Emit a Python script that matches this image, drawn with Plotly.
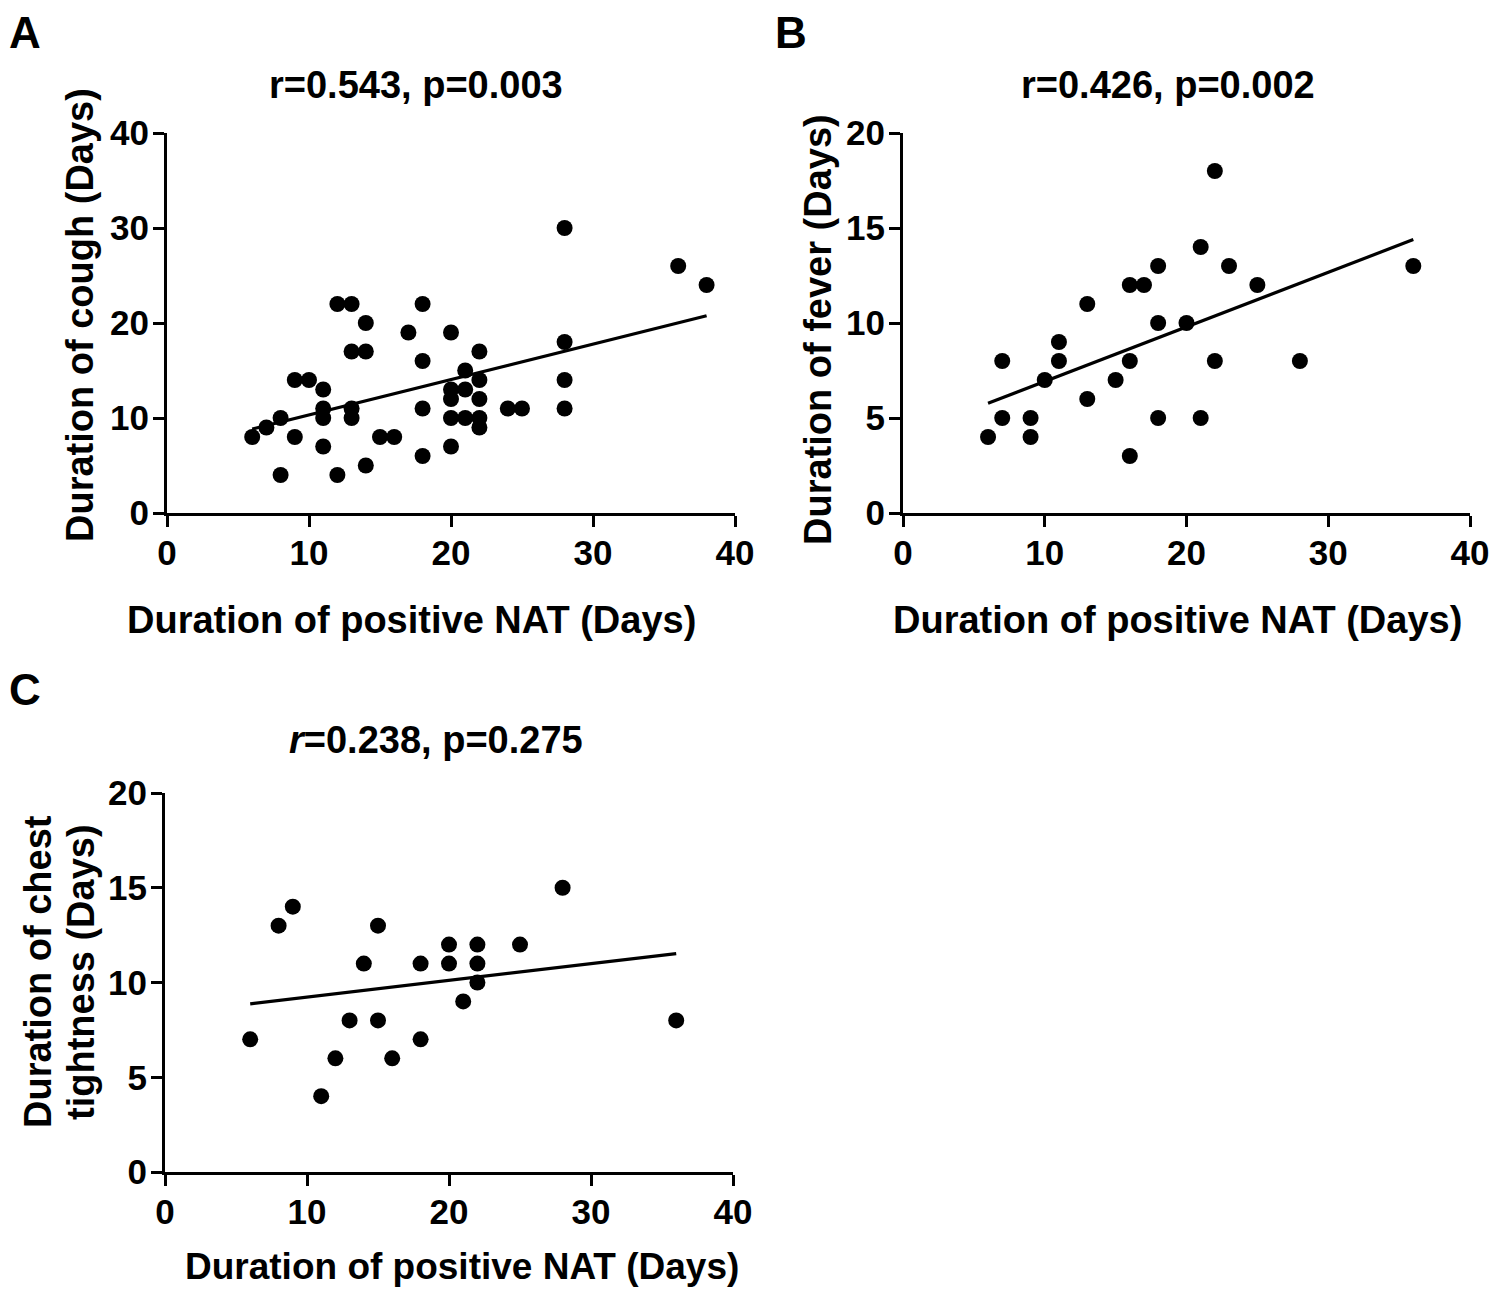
import numpy as np
import plotly.graph_objects as go

# ---- Data ----
a_nat = [6, 7, 8, 8, 9, 9, 10, 11, 11, 11, 11, 12, 12, 13, 13, 13, 13, 14, 14, 14, 15, 16, 17,
         18, 18, 18, 18, 20, 20, 20, 20, 20, 21, 21, 21, 22, 22, 22, 22, 22, 24, 25, 28, 28, 28, 28, 36, 38]
a_cough = [8, 9, 10, 4, 14, 8, 14, 13, 11, 10, 7, 22, 4, 22, 17, 11, 10, 20, 17, 5, 8, 8, 19,
           22, 16, 11, 6, 19, 13, 12, 10, 7, 15, 13, 10, 17, 14, 12, 10, 9, 11, 11, 30, 18, 14, 11, 26, 24]

b_nat = [6, 7, 7, 9, 9, 10, 11, 11, 13, 13, 15, 16, 16, 16, 17, 18, 18, 18, 20, 21, 21, 22, 22, 23, 25, 28, 36]
b_fever = [4, 8, 5, 5, 4, 7, 9, 8, 11, 6, 7, 12, 8, 3, 12, 13, 10, 5, 10, 14, 5, 18, 8, 13, 12, 8, 13]

c_nat = [6, 8, 9, 11, 12, 13, 14, 15, 15, 16, 18, 18, 20, 20, 21, 22, 22, 22, 25, 28, 36]
c_chest = [7, 13, 14, 4, 6, 8, 11, 13, 8, 6, 11, 7, 12, 11, 9, 12, 11, 10, 12, 15, 8]

x_ticks = [0, 10, 20, 30, 40]
ya_ticks = [0, 10, 20, 30, 40]
yb_ticks = [0, 5, 10, 15, 20]
yc_ticks = [0, 5, 10, 15, 20]

titles = ["r=0.543, p=0.003", "r=0.426, p=0.002", "<i>r</i>=0.238, p=0.275"]

# page body has an 8px margin, so the figure is drawn 8px in from the window edge
OFF = 8
W, H = 1512 - 2 * OFF, 1297 - 2 * OFF
FONT = "Arial, Liberation Sans, sans-serif"


def px(x):
    return (x - OFF) / W


def py(y):
    return 1 - (y - OFF) / H


def fit_line(x, y):
    x = np.asarray(x, float)
    y = np.asarray(y, float)
    k, b = np.polyfit(x, y, 1)
    xs = np.array([x.min(), x.max()])
    return xs, k * xs + b


fig = go.Figure()
panels = [
    (a_nat, a_cough, "x", "y"),
    (b_nat, b_fever, "x2", "y2"),
    (c_nat, c_chest, "x3", "y3"),
]
for xs, ys, xa, ya in panels:
    lx, ly = fit_line(xs, ys)
    fig.add_trace(go.Scatter(x=lx, y=ly, mode="lines", line=dict(color="black", width=3.2),
                             xaxis=xa, yaxis=ya, showlegend=False, hoverinfo="skip"))
    fig.add_trace(go.Scatter(x=xs, y=ys, mode="markers",
                             marker=dict(color="black", size=16, line=dict(width=0)),
                             xaxis=xa, yaxis=ya, showlegend=False))

tickfont = dict(family=FONT, size=35, color="black", weight="bold")


def axis(domain, rng, ticks, anchor, standoff):
    return dict(domain=domain, range=rng, tickvals=ticks, ticktext=[str(t) for t in ticks],
                showline=True, linecolor="black", linewidth=3, ticks="outside", ticklen=11,
                tickwidth=3, tickcolor="black", showgrid=False, zeroline=False,
                tickfont=tickfont, anchor=anchor, fixedrange=True, ticklabelstandoff=standoff,
                automargin=False)


XS, YS = -4, -3
fig.update_layout(
    template="none",
    width=W, height=H,
    margin=dict(l=0, r=0, t=0, b=0, pad=0, autoexpand=False),
    paper_bgcolor="white", plot_bgcolor="white",
    showlegend=False,
    xaxis=axis([px(167), px(735)], [0, 40], x_ticks, "y", XS),
    yaxis=axis([py(513), py(133)], [0, 40], ya_ticks, "x", YS),
    xaxis2=axis([px(903), px(1470)], [0, 40], x_ticks, "y2", XS),
    yaxis2=axis([py(513), py(133)], [0, 20], yb_ticks, "x2", YS),
    xaxis3=axis([px(165), px(733)], [0, 40], x_ticks, "y3", XS),
    yaxis3=axis([py(1172), py(793)], [0, 20], yc_ticks, "x3", YS),
)

ann = []


def text(x, y, s, size, angle=0):
    ann.append(dict(x=px(x), y=py(y), xref="paper", yref="paper", text=s, showarrow=False,
                    xanchor="center", yanchor="middle", textangle=angle,
                    font=dict(family=FONT, size=size, color="black", weight="bold")))


# panel letters
text(25, 32, "A", 44)
text(791, 32, "B", 44)
text(25, 689, "C", 44)
# titles
text(416, 85, titles[0], 38)
text(1168, 85, titles[1], 38)
text(436, 740, titles[2], 38)
# x axis titles
text(411, 620, "Duration of positive NAT (Days)", 38)
text(1177, 620, "Duration of positive NAT (Days)", 38)
text(462, 1266, "Duration of positive NAT (Days)", 37)
# y axis titles
text(80, 315, "Duration of cough (Days)", 38, -90)
text(818, 330, "Duration of fever (Days)", 38, -90)
text(38, 972, "Duration of chest", 38, -90)
text(81, 972, "tightness (Days)", 38, -90)

fig.update_layout(annotations=ann)
fig.write_html("out.html")
